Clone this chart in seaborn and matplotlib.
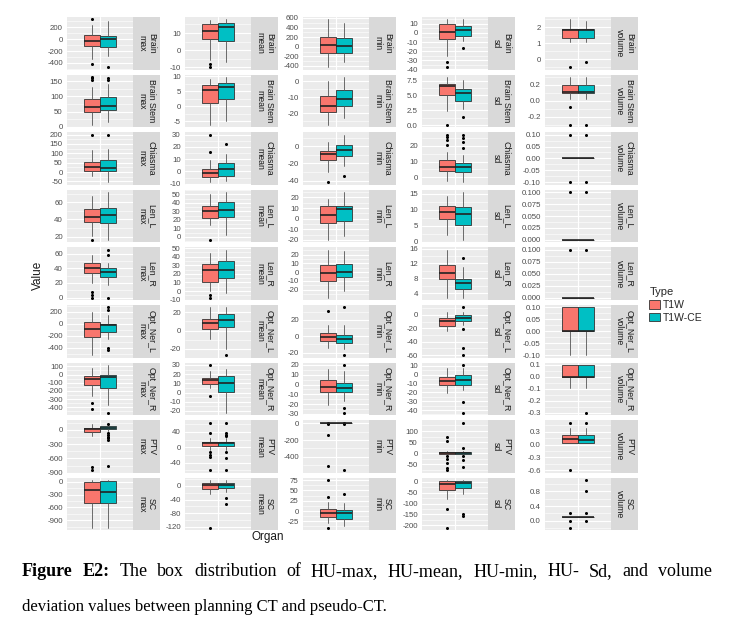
import matplotlib
matplotlib.use("Agg")
import matplotlib.pyplot as plt
from matplotlib.patches import Patch
from matplotlib.ticker import FixedLocator
import seaborn as sns

# Data: per organ (whisker low, q1, median, q3, whisker high) + outliers
organs = ["Brain", "Brain Stem", "Chiasma", "Len_L", "Len_R",
          "Opt_Ner_L", "Opt_Ner_R", "PTV", "SC"]
metrics = ["max", "mean", "min", "sd", "volume"]
types = ["T1W", "T1W-CE"]

max_t1w = [(-330, -120, -40, 60, 240), (6, 50, 65, 91, 131), (-20, 7, 25, 52, 118),
           (21, 37.6, 43, 52.6, 68), (20, 34.4, 40, 47, 58.6), (-525, -225, -85, 22, 200),
           (-265, -125, -50, -17, 75), (-127, -34, 15, 50, 120), (-1080, -490, -180, 0, 40)]
max_t1w_out = [[330, -410], [155, 160, 165], [200], [16], [7.6, 3.8, 0], [],
               [-350, -415], [-785, -835], []]
max_ce = [(-290, -135, 0, 55, 310), (14, 55, 67, 98, 142), (-55, 4, 20, 66, 122),
          (16, 35.8, 45, 53.5, 72), (17.8, 28, 35.5, 41, 47.5), (-260, -140, -20, 0, 150),
          (-375, -167, -30, 0, 117), (-20, 15, 50, 72, 155), (-1080, -490, -230, 10, 40)]
max_ce_out = [[-470], [155, 160], [200], [], [65.7, 58.6, 0], [270, 230, -410, -440],
              [-465], [130, -60, -100, -140, -180, -220, -750], []]
max_ticks = [["-400", "-200", "0", "200"], ["0", "50", "100", "150"],
             ["-50", "0", "50", "100", "150", "200"], ["20", "40", "60"],
             ["0", "20", "40", "60"], ["-400", "-200", "0", "200"],
             ["-400", "-300", "-200", "-100", "0", "100"], ["-900", "-600", "-300", "0"],
             ["-900", "-600", "-300", "0"]]

mean_t1w = [(-6, 6.4, 11.4, 15, 17.6), (-6.1, 1.1, 5.3, 6.9, 8.9), (-8.8, -4.6, -1, 2.2, 9),
            (14, 21.9, 30.6, 36.8, 50), (-0.4, 11, 25, 32, 44.6), (-9.8, 1.9, 8.5, 12.4, 25.5),
            (5.4, 9, 13.4, 15.6, 23.6), (-6, 4.4, 9.7, 13, 24.6), (-23, -10, 2, 10, 17)]
mean_t1w_out = [[-8.2, -10], [], [30, 16], [-3.5], [-4, -7.5], [], [30, -3.7],
                [64, 38, -13, -19, -25, -60], [-123]]
mean_ce = [(-7, 5.6, 13.4, 16, 18), (-5, 2.5, 6.5, 7.6, 9.7), (-7.4, -3.3, 2.2, 7.2, 14.5),
           (2.4, 24, 31.8, 41.5, 52.6), (-2, 15, 25, 35, 48), (-20, 3.5, 11.2, 18.2, 25.5),
           (-22, 0.8, 10.7, 17.6, 25.6), (-6, 4.4, 9.7, 13, 24.6), (-18, -6, 4, 10, 17)]
mean_ce_out = [[], [], [22], [], [], [-27], [], [64, 38, 33, 30, -12, -28, -58], [-36, -53]]
mean_ticks = [["-10", "0", "10"], ["-5", "0", "5", "10"], ["-10", "0", "10", "20", "30"],
              ["0", "10", "20", "30", "40", "50"], ["-10", "0", "10", "20", "30", "40", "50"],
              ["-20", "0", "20"], ["-20", "-10", "0", "10", "20", "30"], ["-40", "0", "40"],
              ["-120", "-80", "-40", "0"]]

min_t1w = [(-425, -137, 30, 208, 570), (-27.3, -19, -15.3, -9.5, 0), (-30.4, -16, -9.5, -5.7, 5),
           (-20, -4.4, 3.3, 11.6, 18.3), (-29, -9.7, -1.2, 7.7, 25.6), (-14.8, -5.4, -1.5, 3.7, 13),
           (-21.4, -7.4, -2.3, 4.4, 16.3), (-2, -1, 0, 1, 2), (-29, -14, -4.7, 4, 23)]
min_t1w_out = [[], [], [-41.8], [], [], [30.5], [], [5, -5, -143, -512], [75, 35, -41]]
min_ce = [(-320, -140, 5, 190, 500), (-23, -15.3, -11, -5.3, 2.7), (-22.8, -11.4, -4.6, 1.1, 13.4),
          (-16.7, -2.4, 9, 11.6, 25), (-21, -5, 0, 9, 24), (-15.7, -8.2, -3.5, 1.6, 13),
          (-17, -7.4, -3.4, 1.7, 13.6), (-2, -1, 0, 1, 2), (-37, -18.6, -4.7, 1.8, 19)]
min_ce_out = [[], [], [-35], [], [], [35, -23], [20, -23.8, -28.9], [10, -8, -565], [41]]
min_ticks = [["-400", "-200", "0", "200", "400", "600"], ["-20", "-10", "0"],
             ["-40", "-20", "0"], ["-20", "-10", "0", "10", "20"], ["-20", "-10", "0", "10", "20"],
             ["-20", "0", "20"], ["-30", "-20", "-10", "0", "10", "20"], ["-400", "-200", "0"],
             ["-25", "0", "25", "50", "75"]]

sd_t1w = [(-25, -7, 1, 10, 14.7), (2.4, 5.0, 6.5, 6.9, 8.1), (-2.7, 4, 6.7, 11, 16.2),
          (2, 7.2, 9.2, 11.2, 14.2), (2.8, 7.7, 9.5, 11.7, 15.7), (-24.4, -16, -9.8, -4.8, 4.9),
          (-21, -11.9, -7.3, -2.5, 8), (-8, -5, 2, 6, 10), (-79, -35, -8, 3, 8)]
sd_t1w_out = [[-32, -37], [0.05], [27.3, 25.6, 24, 20.7], [], [], [], [],
              [71, 57, -12, -28, -43, -65, -77], [-126, -212]]
sd_ce = [(-9, -3, 3.6, 7, 14.7), (2.7, 4.1, 5.4, 6.0, 7.6), (-3.3, 3, 6.3, 9, 14),
         (0.5, 5.2, 8.5, 10.7, 15.5), (2.8, 5.2, 6.8, 7.7, 11), (-14.6, -8.8, -4.8, 0, 4.9),
         (-17.5, -11.9, -6.2, -0.5, 8), (-8, -5, 2, 6, 10), (-55, -28, -5, 3, 8)]
sd_ce_out = [[-16], [1.3], [27.3, 25, 22.4, 18.4], [], [13.5], [11.2, -21, -50, -60],
             [11, -31, -43], [138, 25, -12, -30, -60], [-150, -158]]
sd_ticks = [["-40", "-30", "-20", "-10", "0", "10"], ["0.0", "2.5", "5.0", "7.5"],
            ["0", "10", "20"], ["0", "5", "10", "15"], ["4", "8", "12", "16"],
            ["-60", "-40", "-20", "0"], ["-40", "-30", "-20", "-10", "0", "10"],
            ["-50", "0", "50", "100"], ["-200", "-150", "-100", "-50", "0"]]

volume_t1w = [(1.05, 1.35, 1.83, 1.9, 2.48), (0.02, 0.1, 0.11, 0.2, 0.3), (0, 0, 0, 0, 0),
              (0, 0, 0, 0, 0), (0, 0, 0, 0, 0), (-0.1, 0, 0, 0.1, 0.1),
              (-0.09, 0, 0, 0.1, 0.1), (0.04, 0.04, 0.12, 0.23, 0.39), (0.1, 0.1, 0.1, 0.1, 0.1)]
volume_t1w_out = [[-0.48], [-0.08, -0.3], [0.1, -0.1], [0.1], [0.1], [], [],
                  [0.51, -0.6], [0.2, 0, -0.2]]
volume_ce = [(1.05, 1.35, 1.83, 1.9, 2.4), (0.02, 0.1, 0.11, 0.2, 0.3), (0, 0, 0, 0, 0),
             (0, 0, 0, 0, 0), (0, 0, 0, 0, 0), (-0.1, 0, 0, 0.1, 0.1),
             (-0.09, 0, 0, 0.1, 0.1), (0.04, 0.04, 0.11, 0.23, 0.39), (0.1, 0.1, 0.1, 0.1, 0.1)]
volume_ce_out = [[-0.14], [-0.3], [0.1, -0.1], [0.1], [0.1], [], [-0.3],
                 [0.51], [1.11, 0.8, 0.2, 0]]
volume_ticks = [["0", "1", "2"], ["-0.2", "0.0", "0.2"],
                ["-0.10", "-0.05", "0.00", "0.05", "0.10"],
                ["0.000", "0.025", "0.050", "0.075", "0.100"],
                ["0.000", "0.025", "0.050", "0.075", "0.100"],
                ["-0.10", "-0.05", "0.00", "0.05", "0.10"],
                ["-0.3", "-0.2", "-0.1", "0.0", "0.1"], ["-0.6", "-0.3", "0.0", "0.3"],
                ["0.0", "0.4", "0.8"]]

table = {
    "max": (max_t1w, max_t1w_out, max_ce, max_ce_out, max_ticks),
    "mean": (mean_t1w, mean_t1w_out, mean_ce, mean_ce_out, mean_ticks),
    "min": (min_t1w, min_t1w_out, min_ce, min_ce_out, min_ticks),
    "sd": (sd_t1w, sd_t1w_out, sd_ce, sd_ce_out, sd_ticks),
    "volume": (volume_t1w, volume_t1w_out, volume_ce, volume_ce_out, volume_ticks),
}

sns.set_theme(style="darkgrid")
plt.rcParams["font.family"] = ["Liberation Sans", "DejaVu Sans"]
palette = sns.color_palette(["#F8766D", "#00BFC4"])

W, H = 734, 628
fig = plt.figure(figsize=(W / 100, H / 100), dpi=100, facecolor="white")


def rect(x, y, w, h):
    return [x / W, 1 - (y + h) / H, w / W, h / H]


panel_left = [67, 185, 303, 422, 545]
panel_w, strip_w = 66, 27
row_top0, row_pitch, panel_h = 17, 57.6, 52.5

for j, m in enumerate(metrics):
    t1w, t1w_out, ce, ce_out, ticks = table[m]
    for i, organ in enumerate(organs):
        top = row_top0 + i * row_pitch
        ax = fig.add_axes(rect(panel_left[j], top, panel_w, panel_h))
        ax.set_facecolor("#EBEBEB")
        ax.set_axisbelow(True)
        bstats = []
        for five, out in ((t1w[i], t1w_out[i]), (ce[i], ce_out[i])):
            lo, q1, med, q3, hi = five
            bstats.append(dict(whislo=lo, q1=q1, med=med, q3=q3, whishi=hi, fliers=out))
        parts = ax.bxp(bstats, positions=[-0.145, 0.145], widths=0.29,
                       patch_artist=True, showcaps=False,
                       boxprops=dict(edgecolor="#333333", linewidth=0.6),
                       whiskerprops=dict(color="#555555", linewidth=0.6),
                       medianprops=dict(color="#222222", linewidth=1.2),
                       flierprops=dict(marker="o", markersize=2.2, markerfacecolor="black",
                                       markeredgecolor="black", markeredgewidth=0))
        for box, c in zip(parts["boxes"], palette):
            box.set_facecolor(c)

        # ggplot-like 5% expansion of the data range
        vals = [v for s in bstats for v in (s["whislo"], s["whishi"], *s["fliers"])]
        lo, hi = min(vals), max(vals)
        pad = 0.05 * (hi - lo)
        ax.set_ylim(lo - pad, hi + pad)
        ax.set_xlim(-0.6, 0.6)

        pos = [float(t) for t in ticks[i]]
        ax.set_yticks(pos)
        ax.set_yticklabels(ticks[i])
        step = pos[1] - pos[0]
        mids = [pos[0] - step / 2] + [p + step / 2 for p in pos]
        ax.yaxis.set_minor_locator(FixedLocator(mids))
        ax.set_xticks([0])
        ax.set_xticklabels([""])
        ax.grid(which="major", color="white", linewidth=0.8)
        ax.grid(which="minor", axis="y", color="white", linewidth=0.4)
        ax.tick_params(which="major", length=2, width=0.5, color="#333333",
                       labelsize=5.7, labelcolor="#4D4D4D", pad=1)
        ax.tick_params(which="minor", length=0)
        for sp in ax.spines.values():
            sp.set_visible(False)

        sax = fig.add_axes(rect(panel_left[j] + panel_w, top, strip_w, panel_h))
        sax.set_facecolor("#D9D9D9")
        sax.set_xticks([])
        sax.set_yticks([])
        sax.grid(False)
        for sp in sax.spines.values():
            sp.set_visible(False)
        sax.text(0.5, 0.5, f"{organ}\n{m}", rotation=-90, ha="center", va="center",
                 fontsize=6.3, color="#1A1A1A", linespacing=1.1, transform=sax.transAxes)

fig.text(38 / W, 1 - 275 / H, "Value", rotation=90, ha="center", va="center",
         fontsize=8.5, color="#1A1A1A")
fig.text(268 / W, 1 - 537 / H, "Organ", ha="center", va="center",
         fontsize=8.5, color="#1A1A1A")

handles = [Patch(facecolor=c, edgecolor="#333333", linewidth=0.6) for c in palette]
leg = fig.legend(handles, types, title="Type", loc="upper left",
                 bbox_to_anchor=(640 / W, 1 - 278 / H), frameon=False,
                 fontsize=7.5, title_fontsize=8, handlelength=1.0, handleheight=0.9,
                 handletextpad=0.3, labelspacing=0.25, alignment="left")

# caption, first line justified
serif = ["Liberation Serif", "DejaVu Serif"]
words = [("Figure", "bold"), ("E2:", "bold"), ("The", "normal"), ("box", "normal"),
         ("distribution", "normal"), ("of", "normal"), ("HU-max,", "normal"),
         ("HU-mean,", "normal"), ("HU-min,", "normal"), ("HU-", "normal"),
         ("Sd,", "normal"), ("and", "normal"), ("volume", "normal")]
renderer = fig.canvas.get_renderer()
texts = [fig.text(0, 1 - 572 / H, w, fontsize=13, fontweight=fw, family=serif,
                  va="center", color="black") for w, fw in words]
widths = [t.get_window_extent(renderer).width for t in texts]
gap = (712 - 22 - sum(widths)) / (len(words) - 1)
x = 22
for t, wd in zip(texts, widths):
    t.set_x(x / W)
    x += wd + gap
fig.text(22 / W, 1 - 607 / H, "deviation values between planning CT and pseudo-CT.",
         fontsize=12, family=serif, va="center", color="black")

fig.savefig("out.png", dpi=100, facecolor="white")
